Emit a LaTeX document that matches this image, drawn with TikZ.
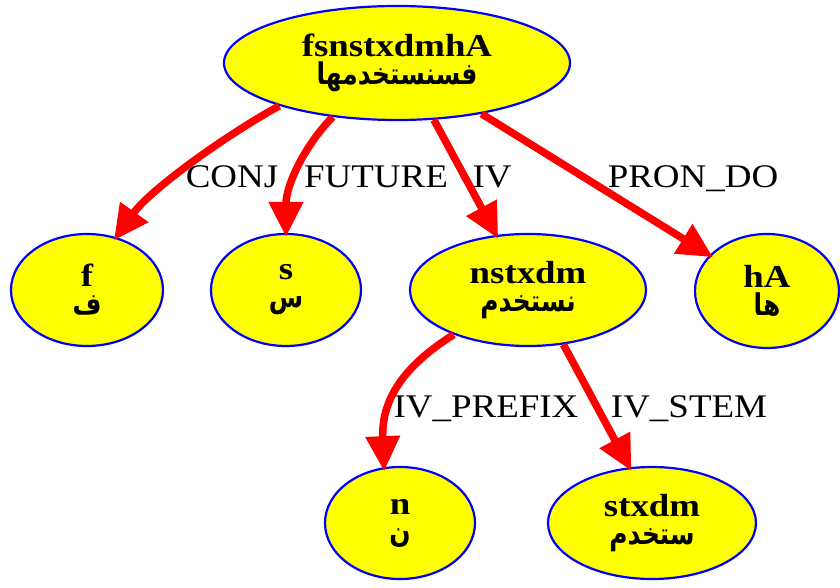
\documentclass[tikz,border=0pt]{standalone}
\usepackage{fontspec}
\setmainfont{Liberation Serif}
\newfontfamily\nodefont[FakeStretch=1.15]{Liberation Serif}
\newfontfamily\labfont[FakeStretch=1.12]{Liberation Serif}
\newfontfamily\arabicfont[Script=Arabic,FakeStretch=0.83]{DejaVu Sans}
\TeXXeTstate=1
\usetikzlibrary{shapes.geometric,arrows.meta}
\definecolor{morphfill}{RGB}{255,255,0}
\definecolor{morphline}{RGB}{0,0,255}
\definecolor{arcred}{RGB}{255,0,0}

\tikzset{
  morph/.style={ellipse, draw=morphline, line width=2.2pt, fill=morphfill,
    inner sep=0pt, align=center,
    font=\nodefont\bfseries\fontsize{32}{28}\selectfont},
  arc/.style={draw=arcred, line width=7.5pt,
    -{Triangle[length=35pt,width=33pt]}, shorten >=-4pt},
  rel/.style={anchor=base, inner sep=0pt,
    font=\labfont\fontsize{33}{36}\selectfont}
}
\newcommand{\ar}[1]{{\arabicfont\bfseries\fontsize{30}{28}\selectfont\beginR #1\endR}}

\begin{document}
\begin{tikzpicture}[x=1pt,y=-1pt]
\useasboundingbox (0,0) rectangle (840,588);

% word and its segments
\node[morph, minimum width=346pt, minimum height=114pt] (root) at (397,63)
  {fsnstxdmhA\\\ar{فسنستخدمها}};
\node[morph, minimum width=152pt, minimum height=112pt] (f) at (87,290)
  {f\\\ar{ف}};
\node[morph, minimum width=150pt, minimum height=112pt] (s) at (286,290)
  {s\\\ar{س}};
\node[morph, minimum width=236pt, minimum height=112pt] (v) at (528,290)
  {nstxdm\\\ar{نستخدم}};
\node[morph, minimum width=144pt, minimum height=114pt] (hA) at (767,291)
  {hA\\\ar{ها}};
\node[morph, minimum width=150pt, minimum height=112pt] (n) at (400,523)
  {n\\\ar{ن}};
\node[morph, minimum width=208pt, minimum height=112pt] (stem) at (652,523)
  {stxdm\\\ar{ستخدم}};

% relation names
\node[rel] (lconj) at (232,187) {CONJ};
\node[rel] (lfut)  at (376,187) {FUTURE};
\node[rel] (liv)   at (492,187) {IV};
\node[rel] (lpron) at (693,187) {PRON\_DO};
\node[rel] (lpre)  at (486,417) {IV\_PREFIX};
\node[rel] (lstem) at (689,417) {IV\_STEM};

% arcs
\draw[arc] (root.200) .. controls (223,137) and (150,190) .. (f.61);
\draw[arc] (root.220) .. controls (305,145) and (286,185) .. (s.90);
\draw[arc] (root.303) -- (v.120);
\draw[arc] (root.329) -- (hA.148);
\draw[arc] (v.211) .. controls (410,362) and (381,395) .. (n.106);
\draw[arc] (v.303) -- (stem.112);
\end{tikzpicture}
\end{document}
